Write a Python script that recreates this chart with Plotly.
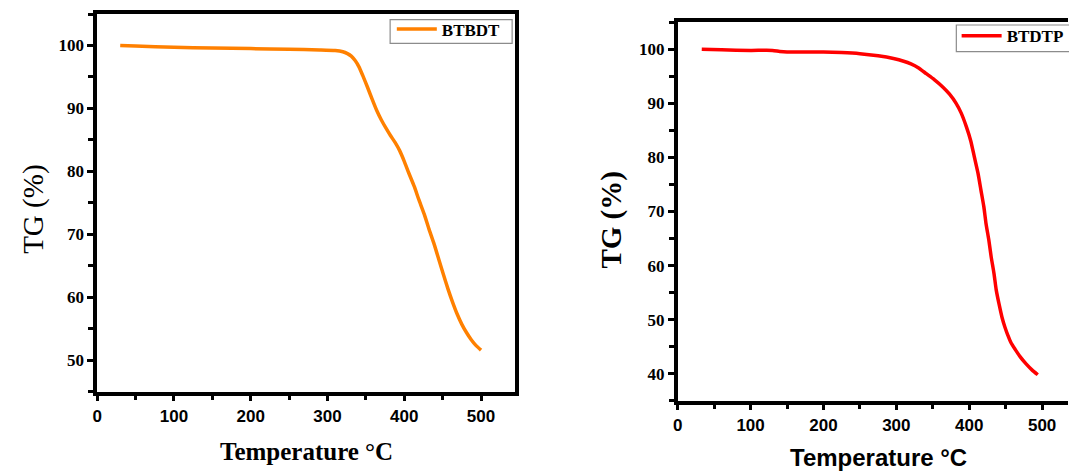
import plotly.graph_objects as go

# ---- data ----
btbdt_temp = [30, 50, 100, 150, 200, 250, 290, 310, 320, 326, 331, 336, 341, 346, 352, 358,
              364, 370, 376, 382, 388, 394, 400, 406, 413, 419, 426, 432, 439, 445, 451, 457,
              463, 469, 475, 481, 487, 493, 500]
btbdt_tg = [100, 99.9, 99.7, 99.6, 99.5, 99.4, 99.3, 99.2, 99.0, 98.7, 98.3, 97.6, 96.6, 95.2,
            93.4, 91.5, 89.7, 88.2, 86.9, 85.7, 84.6, 83.3, 81.6, 79.7, 77.6, 75.5, 73.2, 70.9,
            68.4, 66.0, 63.6, 61.3, 59.2, 57.3, 55.7, 54.4, 53.3, 52.4, 51.6]

btdtp_temp = [33, 60, 100, 130, 140, 150, 200, 225, 250, 275, 296, 310, 320, 330, 341, 352,
              364, 373, 382, 389, 396, 402, 407, 412, 416, 420, 423, 427, 430, 434, 437, 441,
              445, 449, 453, 457, 463, 470, 478, 486, 494]
btdtp_tg = [100, 99.9, 99.8, 99.8, 99.6, 99.5, 99.5, 99.4, 99.2, 98.8, 98.3, 97.8, 97.3, 96.6,
            95.5, 94.4, 93.0, 91.7, 90.0, 88.2, 85.7, 83.1, 80.1, 77.1, 74.0, 70.9, 67.8, 64.6,
            61.7, 58.5, 55.5, 52.8, 50.4, 48.6, 47.1, 45.8, 44.5, 43.1, 41.8, 40.7, 39.8]

x_ticks = [0, 100, 200, 300, 400, 500]
left_y_ticks = [50, 60, 70, 80, 90, 100]
right_y_ticks = [40, 50, 60, 70, 80, 90, 100]

W, H = 1069, 473
SERIF = "Liberation Serif"
SANS = "Liberation Sans"

fig = go.Figure()
fig.add_trace(go.Scatter(x=btbdt_temp, y=btbdt_tg, mode="lines", name="BTBDT",
                         line=dict(color="#FF8000", width=3.5, shape="spline", smoothing=0.6),
                         xaxis="x", yaxis="y", legend="legend"))
fig.add_trace(go.Scatter(x=btdtp_temp, y=btdtp_tg, mode="lines", name="BTDTP",
                         line=dict(color="#FF0000", width=3.5, shape="spline", smoothing=0.6),
                         xaxis="x2", yaxis="y2", legend="legend2"))

def xax(domain, rng, anchor):
    return dict(domain=domain, range=rng, anchor=anchor, tickvals=x_ticks,
                showgrid=False, zeroline=False, showline=True, linecolor="black",
                linewidth=3.5, mirror=True, ticks="outside", ticklen=6, tickwidth=3,
                tickcolor="black",
                tickfont=dict(family=SANS, size=17, color="black", weight="bold"),
                minor=dict(dtick=50, tick0=0, ticks="outside", ticklen=5, tickwidth=2.5,
                           tickcolor="black"))

def yax(domain, rng, anchor, ticks, mirror):
    return dict(domain=domain, range=rng, anchor=anchor, tickvals=ticks,
                showgrid=False, zeroline=False, showline=True, linecolor="black",
                linewidth=3.5, mirror=mirror, ticks="outside", ticklen=6, tickwidth=3,
                tickcolor="black",
                tickfont=dict(family=SERIF, size=17, color="black", weight="bold"),
                minor=dict(dtick=5, tick0=0, ticks="outside", ticklen=5, tickwidth=2.5,
                           tickcolor="black"))

lx0, lx1 = 92.7 / W, 512.7 / W
ly0, ly1 = (H - 391.7) / H, (H - 14) / H
rx0, rx1 = 676.5 / W, 1.0
ry0, ry1 = (H - 400.7) / H, (H - 22.3) / H

legend_font = dict(family=SERIF, size=17, color="black", weight="bold")

fig.update_layout(
    width=W, height=H, margin=dict(l=0, r=0, t=0, b=0),
    paper_bgcolor="white", plot_bgcolor="white",
    xaxis=xax([lx0, lx1], [0, 544], "y"),
    yaxis=yax([ly0, ly1], [45, 105], "x", left_y_ticks, True),
    xaxis2=xax([rx0, rx1], [0, 535.5], "y2"),
    yaxis2=yax([ry0, ry1], [35, 105], "x2", right_y_ticks, False),
    legend=dict(x=389 / W, y=1 - 11.5 / H, xanchor="left", yanchor="top",
                borderwidth=0, bgcolor="rgba(0,0,0,0)", itemwidth=40, font=legend_font),
    legend2=dict(x=957 / W, y=1 - 18.3 / H, xanchor="left", yanchor="top",
                 borderwidth=0, bgcolor="rgba(0,0,0,0)", itemwidth=40, font=legend_font),
    showlegend=True,
    shapes=[
        dict(type="rect", xref="paper", yref="paper",
             x0=387.3 / W, x1=510 / W, y0=1 - 43.3 / H, y1=1 - 19.7 / H,
             line=dict(color="#8c8c8c", width=1.2), fillcolor="rgba(0,0,0,0)", layer="below"),
        dict(type="rect", xref="paper", yref="paper",
             x0=956.7 / W, x1=1075 / W, y0=1 - 51.7 / H, y1=1 - 25 / H,
             line=dict(color="#8c8c8c", width=1.2), fillcolor="rgba(0,0,0,0)", layer="below"),
    ],
)

annotations = [
    dict(text="<b>Temperature °C</b>", x=303.7 / W, y=1 - 451 / H, xref="paper", yref="paper",
         showarrow=False, font=dict(family=SERIF, size=25, color="black"),
         xanchor="center", yanchor="middle"),
    dict(text="TG (%)", x=28 / W, y=1 - 209 / H, xref="paper", yref="paper",
         showarrow=False, textangle=-90, font=dict(family=SERIF, size=29, color="black"),
         xanchor="center", yanchor="middle"),
    dict(text="<b>Temperature °C</b>", x=878 / W, y=1 - 457 / H, xref="paper", yref="paper",
         showarrow=False, font=dict(family=SANS, size=24, color="black"),
         xanchor="center", yanchor="middle"),
    dict(text="<b>TG (%)</b>", x=610 / W, y=1 - 220 / H, xref="paper", yref="paper",
         showarrow=False, textangle=-90, font=dict(family=SERIF, size=29, color="black"),
         xanchor="center", yanchor="middle"),
]
fig.update_layout(annotations=annotations)

fig.write_html("out.html")
